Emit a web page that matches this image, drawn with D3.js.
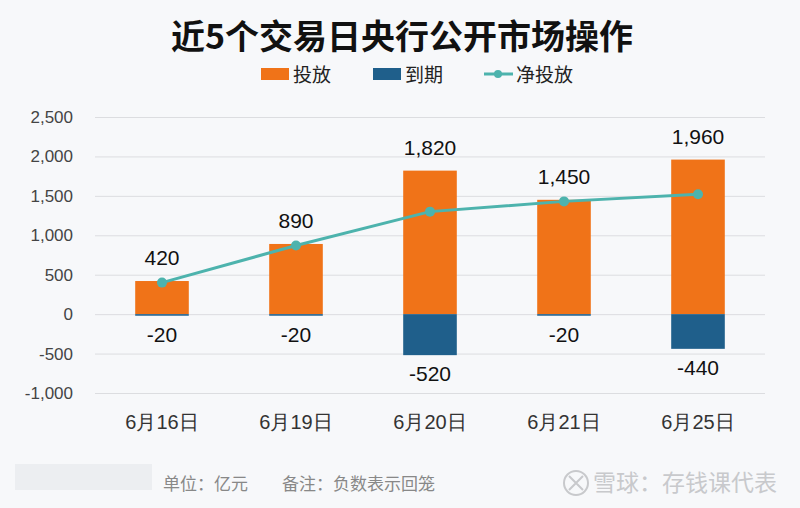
<!DOCTYPE html>
<html>
<head>
<meta charset="utf-8">
<script src="https://cdn.jsdelivr.net/npm/d3@7"></script>
<style>
  body { margin: 0; background: #f7f8fa; }
  svg { display: block; font-family: "Noto Sans CJK SC", "Liberation Sans", Arial, sans-serif; }
</style>
</head>
<body>
<div id="chart"></div>
<script>
// data
var categories = ["6月16日", "6月19日", "6月20日", "6月21日", "6月25日"];
var release = [420, 890, 1820, 1450, 1960];      // 投放
var expire = [-20, -20, -520, -20, -440];        // 到期
var netRelease = [400, 870, 1300, 1430, 1520];   // 净投放
var yTicks = [-1000, -500, 0, 500, 1000, 1500, 2000, 2500];

var width = 800, height = 508;
var margin = {top: 117, right: 35, bottom: 115, left: 95};
var colors = {release: "#f07318", expire: "#1f5f8b", net: "#4db3ad"};
var numFont = "'Liberation Sans', Arial, sans-serif";

// plain hyphen for negatives, like the original
var fmt = d3.formatLocale({decimal: ".", thousands: ",", grouping: [3], currency: ["", ""], minus: "-"}).format(",");

var svg = d3.select("#chart").append("svg")
    .attr("width", width)
    .attr("height", height);

svg.append("rect").attr("width", width).attr("height", height).attr("fill", "#f7f8fa");

var x = d3.scaleBand()
    .domain(categories)
    .range([margin.left, width - margin.right])
    .paddingInner(0.6)
    .paddingOuter(0.3);

var y = d3.scaleLinear()
    .domain([-1000, 2500])
    .range([height - margin.bottom, margin.top]);

// title
svg.append("text")
    .attr("x", 402).attr("y", 49)
    .attr("text-anchor", "middle")
    .attr("font-size", 34)
    .attr("font-weight", "bold")
    .attr("fill", "#111")
    .text("近5个交易日央行公开市场操作");

// legend
var legend = svg.append("g").attr("font-size", 19).attr("fill", "#222");
legend.append("rect").attr("x", 261).attr("y", 68).attr("width", 28).attr("height", 12).attr("fill", colors.release);
legend.append("text").attr("x", 293).attr("y", 82).text("投放");
legend.append("rect").attr("x", 373).attr("y", 68).attr("width", 28).attr("height", 12).attr("fill", colors.expire);
legend.append("text").attr("x", 405).attr("y", 82).text("到期");
legend.append("line").attr("x1", 484).attr("x2", 513).attr("y1", 74).attr("y2", 74)
    .attr("stroke", colors.net).attr("stroke-width", 3);
legend.append("circle").attr("cx", 498).attr("cy", 74).attr("r", 4).attr("fill", colors.net);
legend.append("text").attr("x", 516).attr("y", 82).text("净投放");

// grid + y axis
var yAxis = svg.append("g")
    .attr("transform", "translate(" + margin.left + ",0)")
    .call(d3.axisLeft(y).tickValues(yTicks).tickSize(-(width - margin.left - margin.right))
        .tickFormat(fmt).tickPadding(22));
yAxis.select(".domain").remove();
yAxis.selectAll(".tick line").attr("stroke", "#dcdde0").attr("stroke-width", 1);
yAxis.selectAll(".tick text").attr("font-size", 17).attr("fill", "#444")
    .attr("font-family", numFont);

// x axis labels
var xAxis = svg.append("g")
    .attr("transform", "translate(0," + (height - margin.bottom) + ")")
    .call(d3.axisBottom(x).tickSize(0).tickPadding(22));
xAxis.select(".domain").remove();
xAxis.selectAll(".tick text").attr("font-size", 20).attr("fill", "#333");

// bars
svg.append("g").selectAll("rect")
    .data(release)
    .enter().append("rect")
    .attr("x", function (d, i) { return x(categories[i]); })
    .attr("y", function (d) { return y(d); })
    .attr("width", x.bandwidth())
    .attr("height", function (d) { return y(0) - y(d); })
    .attr("fill", colors.release);

svg.append("g").selectAll("rect")
    .data(expire)
    .enter().append("rect")
    .attr("x", function (d, i) { return x(categories[i]); })
    .attr("y", y(0))
    .attr("width", x.bandwidth())
    .attr("height", function (d) { return y(d) - y(0); })
    .attr("fill", colors.expire);

// value labels
svg.append("g").selectAll("text")
    .data(release)
    .enter().append("text")
    .attr("x", function (d, i) { return x(categories[i]) + x.bandwidth() / 2; })
    .attr("y", function (d) { return y(d) - 16; })
    .attr("text-anchor", "middle")
    .attr("font-size", 21)
    .attr("font-family", numFont)
    .attr("fill", "#111")
    .text(fmt);

svg.append("g").selectAll("text")
    .data(expire)
    .enter().append("text")
    .attr("x", function (d, i) { return x(categories[i]) + x.bandwidth() / 2; })
    .attr("y", function (d) { return y(d) + 26; })
    .attr("text-anchor", "middle")
    .attr("font-size", 21)
    .attr("font-family", numFont)
    .attr("fill", "#111")
    .text(fmt);

// net line
var line = d3.line()
    .x(function (d, i) { return x(categories[i]) + x.bandwidth() / 2; })
    .y(function (d) { return y(d); });

svg.append("path")
    .datum(netRelease)
    .attr("d", line)
    .attr("fill", "none")
    .attr("stroke", colors.net)
    .attr("stroke-width", 3);

svg.append("g").selectAll("circle")
    .data(netRelease)
    .enter().append("circle")
    .attr("cx", function (d, i) { return x(categories[i]) + x.bandwidth() / 2; })
    .attr("cy", function (d) { return y(d); })
    .attr("r", 5)
    .attr("fill", colors.net);

// footer
svg.append("rect").attr("x", 15).attr("y", 464).attr("width", 137).attr("height", 26)
    .attr("fill", "#eceef1");
svg.append("text").attr("x", 163).attr("y", 490).attr("font-size", 17).attr("fill", "#888")
    .text("单位：亿元");
svg.append("text").attr("x", 282).attr("y", 490).attr("font-size", 17).attr("fill", "#888")
    .text("备注：负数表示回笼");

// watermark
var wm = svg.append("g").attr("fill", "none").attr("stroke", "#c8c9cc").attr("stroke-width", 2);
wm.append("circle").attr("cx", 576).attr("cy", 483).attr("r", 12);
wm.append("path").attr("d", "M569,476 L583,490 M583,476 L569,490");
svg.append("text").attr("x", 593).attr("y", 491).attr("font-size", 23).attr("fill", "#c8c9cc")
    .text("雪球：存钱课代表");
</script>
</body>
</html>
